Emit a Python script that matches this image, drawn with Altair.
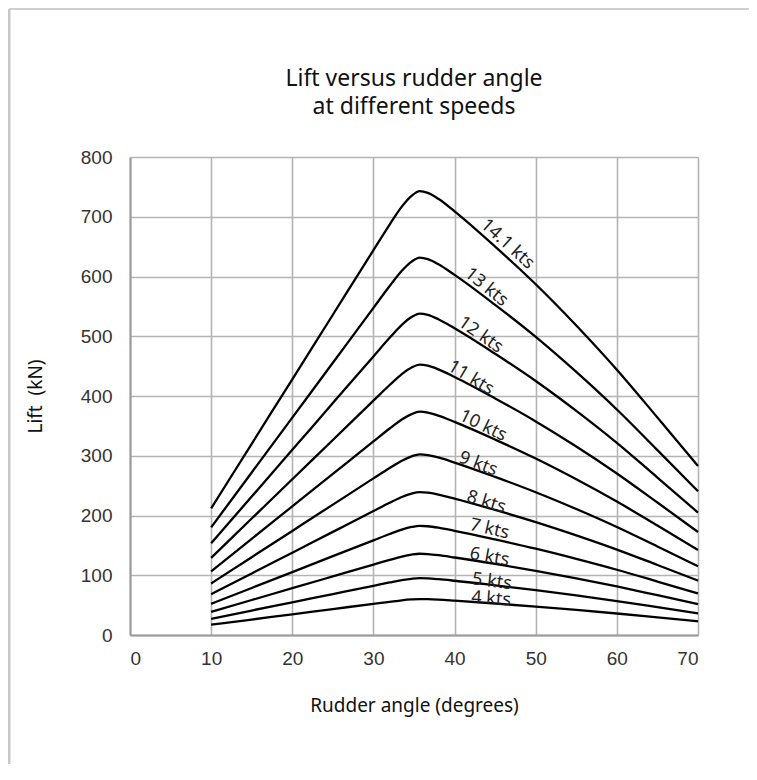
import altair as alt
import pandas as pd

# Rudder angles (degrees) at which the curves were read
angles = [10, 15, 20, 25, 30, 32, 33.5, 34.7, 35.7, 36.7, 38, 40, 45, 50, 55, 60, 65, 70]

speed_names = ["4 kts", "5 kts", "6 kts", "7 kts", "8 kts", "9 kts",
               "10 kts", "11 kts", "12 kts", "13 kts", "14.1 kts"]

# Lift (kN)
lift_4 = [17.2, 25.9, 34.7, 43.4, 52.2, 55.6, 58.1, 59.5, 60.2, 59.9, 59.1, 57.4, 52.7, 47.5, 42.0, 36.0, 29.5, 22.9]
lift_5 = [27.1, 41.0, 54.8, 68.6, 82.4, 87.9, 91.8, 94.1, 95.1, 94.7, 93.4, 90.8, 83.2, 75.1, 66.3, 56.8, 46.6, 36.2]
lift_6 = [38.8, 58.6, 78.3, 98.1, 117.9, 125.7, 131.2, 134.5, 136.0, 135.4, 133.6, 129.7, 119.0, 107.4, 94.8, 81.3, 66.6, 51.8]
lift_7 = [52.2, 78.7, 105.3, 131.9, 158.4, 169.0, 176.4, 180.8, 182.8, 182.0, 179.6, 174.4, 159.9, 144.4, 127.4, 109.2, 89.5, 69.6]
lift_8 = [68.3, 103.0, 137.8, 172.6, 207.4, 221.2, 230.9, 236.7, 239.2, 238.3, 235.1, 228.3, 209.3, 189.0, 166.8, 143.0, 117.2, 91.1]
lift_9 = [86.3, 130.2, 174.2, 218.2, 262.1, 279.6, 291.8, 299.1, 302.4, 301.2, 297.1, 288.6, 264.6, 238.9, 210.8, 180.7, 148.1, 115.2]
lift_10 = [106.6, 161.0, 215.3, 269.6, 323.9, 345.6, 360.7, 369.7, 373.7, 372.2, 367.2, 356.6, 327.0, 295.3, 260.6, 223.3, 183.1, 142.3]
lift_11 = [129.1, 194.9, 260.7, 326.4, 392.2, 418.4, 436.7, 447.6, 452.5, 450.7, 444.6, 431.8, 395.9, 357.5, 315.5, 270.4, 221.7, 172.3]
lift_12 = [153.5, 231.7, 309.9, 388.1, 466.3, 497.4, 519.1, 532.1, 537.9, 535.8, 528.5, 513.3, 470.6, 425.0, 375.0, 321.5, 263.5, 204.9]
lift_13 = [180.2, 272.0, 363.8, 455.6, 547.4, 584.0, 609.5, 624.8, 631.6, 629.0, 620.5, 602.7, 552.5, 499.0, 440.3, 377.4, 309.4, 240.6]
lift_14_1 = [212, 320, 428, 536, 644, 687, 717, 735, 743, 740, 730, 709, 650, 587, 518, 444, 364, 283]

all_lifts = [lift_4, lift_5, lift_6, lift_7, lift_8, lift_9,
             lift_10, lift_11, lift_12, lift_13, lift_14_1]

# Curve labels (data coordinates) and their tilt
label_x = [44.5, 44.6, 44.3, 44.3, 43.9, 42.9, 43.5, 42.0, 43.2, 43.9, 46.5]
label_y = [60, 89, 130, 177, 222, 286, 350, 430, 502, 582, 654]
label_angle = [4, 7, 10, 13, 17, 21, 26, 31, 35, 39, 42]

x_ticks = [0, 10, 20, 30, 40, 50, 60, 70]
y_ticks = [0, 100, 200, 300, 400, 500, 600, 700, 800]

rows = []
for name, lifts in zip(speed_names, all_lifts):
    for a, v in zip(angles, lifts):
        rows.append({"speed": name, "angle": a, "lift": v})
df = pd.DataFrame(rows)

labels_df = pd.DataFrame({"speed": speed_names, "angle": label_x,
                          "lift": label_y, "rot": label_angle})

x_scale = alt.Scale(domain=[0, 70], nice=False, zero=False)
y_scale = alt.Scale(domain=[0, 800], nice=False)

lines = alt.Chart(df).mark_line(color="black", strokeWidth=2.3, interpolate="monotone").encode(
    x=alt.X("angle:Q", scale=x_scale,
            axis=alt.Axis(values=x_ticks, title="Rudder angle (degrees)", titlePadding=28)),
    y=alt.Y("lift:Q", scale=y_scale,
            axis=alt.Axis(values=y_ticks, title="Lift\u00a0 (kN)", titlePadding=35)),
    detail="speed:N",
)

texts = alt.Chart(labels_df).mark_text(
    font="Noto Sans", fontSize=18, color="#222", align="center", baseline="middle"
).encode(
    x=alt.X("angle:Q", scale=x_scale),
    y=alt.Y("lift:Q", scale=y_scale),
    text="speed:N",
    angle=alt.Angle("rot:Q", scale=None),
)

# light grey frame on the left and top of the picture (decoration)
one = pd.DataFrame({"k": [0]})
frame_left = alt.Chart(one).mark_rule(color="#c8c8c8", strokeWidth=3).encode(
    x=alt.value(-121), y=alt.value(-148), y2=alt.value(607))
frame_top = alt.Chart(one).mark_rule(color="#d0d0d0", strokeWidth=2).encode(
    x=alt.value(-121), x2=alt.value(619), y=alt.value(-148))

chart = alt.layer(frame_left, frame_top, lines, texts).properties(
    width=568,
    height=478,
    title=alt.TitleParams(
        text=["Lift versus rudder angle", "at different speeds"],
        font="Noto Sans", fontSize=23, fontWeight="normal", color="#111",
        lineHeight=28, offset=-111, anchor="middle",
    ),
    autosize=alt.AutoSizeParams(type="none"),
    padding={"left": 122, "top": 149, "right": 51, "bottom": 130},
).configure_view(
    stroke=None
).configure_axis(
    grid=True, gridColor="#b4b4b4", gridWidth=1.6,
    domainColor="#9a9a9a", domainWidth=2,
    ticks=False,
    labelFont="Liberation Sans", labelFontSize=19, labelColor="#333",
    titleFont="Noto Sans", titleFontSize=19, titleFontWeight="normal", titleColor="#111",
).configure_axisX(
    labelPadding=14,
).configure_axisY(
    labelPadding=18,
)

chart.save("out.html", embed_options={"renderer": "svg", "actions": False})
